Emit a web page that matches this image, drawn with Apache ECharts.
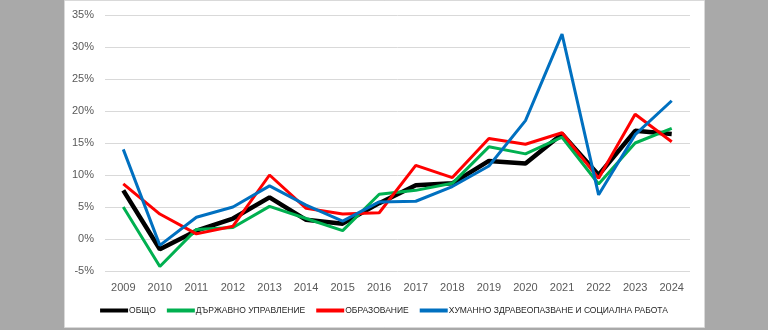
<!DOCTYPE html>
<html><head><meta charset="utf-8">
<script src="https://cdn.jsdelivr.net/npm/echarts@6/dist/echarts.min.js"></script>
<style>html,body{margin:0;padding:0;background:#a9a9a9;}#c{width:768px;height:330px;}</style>
</head><body><div id="c"></div>
<script>
const years = ['2009','2010','2011','2012','2013','2014','2015','2016','2017','2018','2019','2020','2021','2022','2023','2024'];
const seriesNames = ['ОБЩО','ДЪРЖАВНО УПРАВЛЕНИЕ','ОБРАЗОВАНИЕ','ХУМАННО ЗДРАВЕОПАЗВАНЕ И СОЦИАЛНА РАБОТА'];
const total      = [7.6, -1.6, 1.3, 3.2, 6.5, 3.0, 2.4, 5.6, 8.4, 8.7, 12.2, 11.8, 16.4, 10.0, 16.9, 16.4];
const government = [5.0, -4.3, 1.5, 1.8, 5.1, 3.2, 1.3, 7.0, 7.6, 8.7, 14.4, 13.3, 15.9, 8.6, 15.0, 17.3];
const education  = [8.6, 3.9, 0.8, 2.0, 10.0, 4.8, 3.9, 4.1, 11.5, 9.6, 15.7, 14.8, 16.6, 9.5, 19.5, 15.2];
const health     = [14.0, -1.0, 3.4, 5.0, 8.3, 5.3, 2.8, 5.8, 5.9, 8.2, 11.4, 18.5, 32.0, 6.9, 16.3, 21.6];
const yTicks = {min: -5, max: 35, interval: 5};
const colors = ['#000000','#00b050','#ff0000','#0070c0'];
const widths = [4.5, 3, 3, 3];
const dataSets = [total, government, education, health];

const chart = echarts.init(document.getElementById('c'), null, {renderer:'canvas'});
chart.setOption({
  animation: false,
  backgroundColor: '#a9a9a9',
  graphic: [{type:'rect', shape:{x:64.5, y:0.5, width:640, height:327}, style:{fill:'#ffffff', stroke:'#d9d9d9', lineWidth:1}, z:-10}],
  grid: {left:105, right:78, top:15, bottom:59},
  legend: {
    bottom: 10, left: 'center', icon: 'rect', itemWidth: 28, itemHeight: 4, itemGap: 11,
    textStyle: {fontFamily: '"Liberation Sans",sans-serif', fontSize: 8.5, color: '#262626', padding:[0,0,0,-4]},
    data: seriesNames
  },
  xAxis: {
    type: 'category', data: years, boundaryGap: true,
    axisLine: {show:false}, axisTick: {show:false},
    axisLabel: {color:'#595959', fontFamily:'"Liberation Sans",sans-serif', fontSize:11, margin:11}
  },
  yAxis: {
    type: 'value', min: yTicks.min, max: yTicks.max, interval: yTicks.interval,
    axisLine: {show:false}, axisTick: {show:false},
    splitLine: {lineStyle:{color:'#d9d9d9', width:1}},
    axisLabel: {color:'#595959', fontFamily:'"Liberation Sans",sans-serif', fontSize:11, margin:11, formatter: v => v + '%'}
  },
  series: seriesNames.map((n,i) => ({
    name: n, type: 'line', data: dataSets[i], symbol: 'none', smooth: false,
    lineStyle: {color: colors[i], width: widths[i]}, itemStyle: {color: colors[i]},
    emphasis: {disabled: true}, z: i === 0 ? 2 : 3 + i
  }))
});
</script></body></html>
